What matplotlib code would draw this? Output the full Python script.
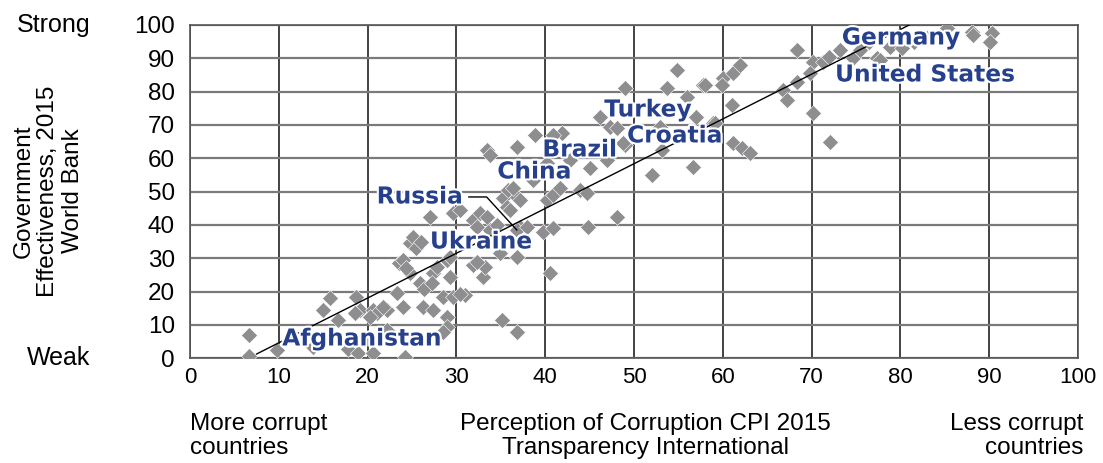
import numpy as np
import matplotlib
matplotlib.use("Agg")
from matplotlib import pyplot as plt
from matplotlib import patheffects as pe

# CPI 2015 (x) vs Government Effectiveness 2015 (y)
cpi = [6.6, 6.6, 9.8, 13.9, 15.8, 15.0, 16.7, 18.7, 19.1, 18.6, 20.6, 21.1, 17.8, 18.9, 20.6, 24.2, 22.2, 20.3, 22.2,
       23.5, 24.0, 24.8, 25.1, 27.0, 24.8, 25.9, 27.4, 27.8, 28.9, 29.3, 23.3, 24.0, 21.7, 26.2, 27.4, 28.5, 29.6, 31.0,
       28.9, 28.9, 28.5, 26.3, 27.3, 29.3, 30.4, 25.5, 26.0, 24.3,
       29.6, 30.4, 31.9, 32.7, 33.4, 32.3, 33.8, 34.6, 35.2, 35.8, 36.8, 35.7, 36.0, 37.2, 36.8, 37.9, 36.8, 34.9,
       31.9, 33.0, 33.2, 32.3, 35.1, 36.8, 39.8, 40.9, 40.5, 33.4, 33.8, 36.8, 38.9, 38.6, 40.2, 40.2, 40.9, 41.7,
       36.4, 37.2,
       41.9, 40.9, 42.8, 43.9, 44.7, 45.0, 44.8, 48.1, 46.2, 47.3, 48.1, 49.0, 48.8, 47.0, 49.0,
       53.2, 52.0, 53.7, 54.8, 56.0, 57.8, 52.9, 57.0, 58.9, 56.6, 58.0, 59.1,
       60.0, 59.9, 61.2, 61.9, 61.0, 61.2, 62.2, 63.1, 66.8, 68.4, 67.2, 68.4, 70.2, 72.1,
       70.2, 71.3, 69.8, 72.0, 73.2, 74.7, 77.4, 78.8, 80.2, 77.7, 81.5, 83.0, 85.2, 88.1, 88.2, 90.3, 90.1, 75.5, 76.5]
gov_eff = [7.0, 0.7, 2.5, 3.4, 18.1, 14.5, 11.5, 18.4, 14.5, 13.6, 14.5, 13.6, 2.7, 1.6, 1.5, 0.4, 8.5, 12.4, 14.5,
           28.6, 29.5, 34.6, 36.4, 42.4, 25.6, 22.6, 25.6, 27.4, 29.5, 30.4, 19.6, 15.4, 15.4, 15.4, 14.5, 18.4, 18.4, 19.0,
           12.4, 9.4, 7.9, 20.8, 22.6, 24.4, 19.3, 33.0, 35.0, 27.0,
           43.6, 44.5, 41.5, 43.6, 42.4, 39.4, 38.5, 40.0, 48.1, 50.5, 48.4, 45.4, 44.5, 39.4, 38.5, 39.4, 30.4, 31.6,
           28.0, 24.4, 27.4, 28.9, 11.5, 7.9, 37.9, 39.1, 25.6, 62.5, 61.0, 63.4, 67.0, 53.5, 58.6, 47.5, 49.0, 51.1,
           51.1, 47.5,
           67.5, 67.0, 59.5, 50.5, 49.6, 57.1, 39.4, 42.4, 72.4, 69.4, 69.1, 64.0, 64.6, 59.5, 81.0,
           62.5, 55.0, 81.0, 86.5, 78.5, 82.0, 69.4, 72.4, 70.6, 57.5, 82.0, 70.6,
           84.0, 82.0, 85.6, 88.0, 76.0, 64.6, 63.1, 61.6, 80.5, 83.0, 77.5, 92.5, 73.6, 64.9,
           88.9, 88.9, 85.6, 90.4, 92.5, 90.1, 90.1, 93.4, 93.1, 89.5, 95.0, 96.0, 99.1, 97.9, 97.0, 97.6, 94.9, 92.5, 95.0]

trend_x = [7.5, 81.0]
trend_y = [1.3, 100.0]

countries = ["Afghanistan", "Russia", "Ukraine", "China", "Brazil", "Turkey", "Croatia", "Germany", "United States"]
label_x = [19.4, 25.9, 32.8, 38.8, 43.9, 51.6, 54.6, 80.1, 82.8]
label_y = [5.8, 48.4, 34.9, 55.9, 62.5, 74.5, 66.7, 96.1, 85.0]

russia_leader_x = [31.4, 33.4, 36.8]
russia_leader_y = [48.4, 48.4, 38.5]

fig = plt.figure(figsize=(11.03, 4.63), dpi=100)
ax = fig.add_axes([0.1723, 0.2261, 0.805, 0.72])

ax.plot(cpi, gov_eff, linestyle="none", marker="D", markersize=8.4,
        color="#8e8e90", markeredgecolor="white", markeredgewidth=0.4, zorder=3)
ax.plot(trend_x, trend_y, color="black", lw=1.0, zorder=4)
ax.plot(russia_leader_x, russia_leader_y, color="black", lw=1.0, zorder=4)

for name, lx, ly in zip(countries, label_x, label_y):
    ax.text(lx, ly, name, ha="center", va="center", fontsize=16.8, fontweight="bold",
            family="DejaVu Sans", color="#27408b", zorder=5,
            path_effects=[pe.withStroke(linewidth=3, foreground="white")])

ax.set_xlim(0, 100)
ax.set_ylim(0, 100)
ax.set_xticks(np.arange(0, 101, 10))
ax.set_yticks(np.arange(0, 101, 10))
ax.grid(axis="x", color="#222222", lw=1.2, zorder=0)
ax.grid(axis="y", color="#7a7a7a", lw=1.6, zorder=0)
for s in ax.spines.values():
    s.set_color("#555555")
    s.set_linewidth(1.2)
ax.tick_params(length=0)
ax.tick_params(axis="y", pad=11, labelsize=17.5)
ax.tick_params(axis="x", pad=6, labelsize=16)
for t in ax.get_yticklabels() + ax.get_xticklabels():
    t.set_family("Liberation Sans")

fig.text(0.0816, 0.946, "Strong", ha="right", va="center", fontsize=18, family="Liberation Sans")
fig.text(0.0816, 0.2268, "Weak", ha="right", va="center", fontsize=18, family="Liberation Sans")
fig.text(0.0435, 0.5875, "Government\nEffectiveness, 2015\nWorld Bank", rotation=90, ha="center", va="center",
         fontsize=17.5, family="Liberation Sans", linespacing=1.15)

fig.text(0.1723, 0.058, "More corrupt\ncountries", ha="left", va="center", fontsize=17.5,
         family="Liberation Sans", linespacing=1.15)
fig.text(0.5848, 0.058, "Perception of Corruption CPI 2015\nTransparency International", ha="center", va="center",
         fontsize=17.5, family="Liberation Sans", linespacing=1.15)
fig.text(0.982, 0.058, "Less corrupt\ncountries", ha="right", va="center", multialignment="right",
         fontsize=17.5, family="Liberation Sans", linespacing=1.15)

fig.savefig("out.png", dpi=100)
